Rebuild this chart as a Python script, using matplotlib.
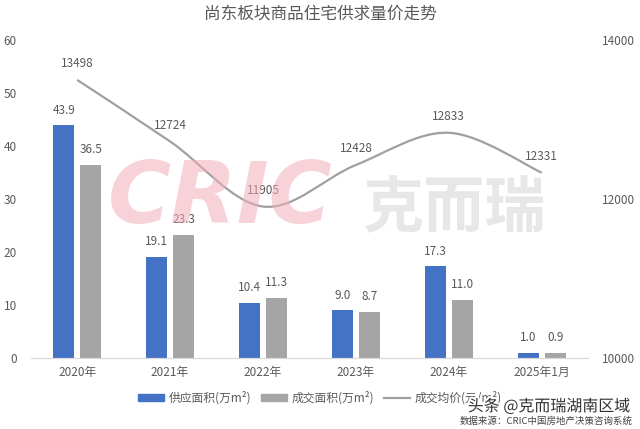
import numpy as np
import matplotlib.pyplot as plt
from matplotlib.path import Path
from matplotlib.patches import PathPatch, Patch
from matplotlib.lines import Line2D
import matplotlib.patheffects as pe

plt.rcParams['font.family'] = ['Noto Sans CJK SC', 'DejaVu Sans']

years = ['2020年', '2021年', '2022年', '2023年', '2024年', '2025年1月']
supply = [43.9, 19.1, 10.4, 9.0, 17.3, 1.0]
deal = [36.5, 23.3, 11.3, 8.7, 11.0, 0.9]
price = [13498, 12724, 11905, 12428, 12833, 12331]

BLUE = '#4472C4'
GREY = '#A5A5A5'
TXT = '#595959'

fig = plt.figure(figsize=(6.4, 4.29), dpi=100)
ax = fig.add_axes([0.048, 0.1655, 0.871, 0.7413])
ax2 = ax.twinx()

x = np.arange(len(years))
w = 0.225
ax.bar(x - 0.145, supply, w, color=BLUE, zorder=2)
ax.bar(x + 0.145, deal, w, color=GREY, zorder=2)
for i in range(len(x)):
    ax.annotate(f'{supply[i]:.1f}', (x[i] - 0.145, supply[i]), xytext=(0, 11),
                textcoords='offset points', ha='center', va='center', fontsize=8.5, color=TXT)
    ax.annotate(f'{deal[i]:.1f}', (x[i] + 0.145, deal[i]), xytext=(0, 11),
                textcoords='offset points', ha='center', va='center', fontsize=8.5, color=TXT)

# smoothed price line (catmull-rom style bezier, like excel)
pts = np.column_stack([x, price]).astype(float)
verts = [tuple(pts[0])]
codes = [Path.MOVETO]
n = len(pts)
for i in range(n - 1):
    p_prev = pts[i - 1] if i > 0 else pts[i]
    p_next2 = pts[i + 2] if i + 2 < n else pts[i + 1]
    c1 = pts[i] + (pts[i + 1] - p_prev) / 6
    c2 = pts[i + 1] - (p_next2 - pts[i]) / 6
    verts += [tuple(c1), tuple(c2), tuple(pts[i + 1])]
    codes += [Path.CURVE4] * 3
ax2.add_patch(PathPatch(Path(verts, codes), fill=False, edgecolor='#A0A0A0', lw=1.6, zorder=3))
for i in range(n):
    ax2.annotate(str(price[i]), (x[i], price[i]), xytext=(0, 11.5),
                 textcoords='offset points', ha='center', va='center', fontsize=8.5, color=TXT)

ax.set_xlim(-0.5, len(years) - 0.5)
ax.set_ylim(0, 60)
ax.set_yticks(range(0, 61, 10))
ax2.set_ylim(10000, 14000)
ax2.set_yticks([10000, 12000, 14000])
ax.set_xticks(x)
ax.set_xticklabels(years)

for a in (ax, ax2):
    for s in ('top', 'left', 'right'):
        a.spines[s].set_visible(False)
    a.spines['bottom'].set_color('#D9D9D9')
    a.tick_params(length=0, labelsize=8.5, labelcolor=TXT)
ax.tick_params(axis='y', pad=10)
ax.tick_params(axis='x', pad=6)
ax2.tick_params(axis='y', pad=10)

fig.text(0.5, 0.968, '尚东板块商品住宅供求量价走势', ha='center', va='center', fontsize=12, color=TXT)

# watermark
fig.text(0.345, 0.535, 'CRIC', ha='center', va='center', fontsize=62, fontweight='bold',
         style='italic', color='#F2AEB8', alpha=0.55, zorder=5, family='DejaVu Sans')
fig.text(0.71, 0.512, '克而瑞', ha='center', va='center', fontsize=44, fontweight='bold',
         color='#D8D8D8', alpha=0.6, zorder=5)

handles = [Patch(color=BLUE), Patch(color=GREY), Line2D([], [], color='#A0A0A0', lw=1.6)]
labels = ['供应面积(万m²)', '成交面积(万m²)', '成交均价(元/m²)']
fig.legend(handles, labels, loc='center', bbox_to_anchor=(0.5, 0.072), ncol=3, frameon=False,
           fontsize=8.5, labelcolor=TXT, handlelength=2.2, handleheight=0.6,
           columnspacing=0.8, handletextpad=0.4)

fig.text(0.985, 0.052, '头条 @克而瑞湖南区域', ha='right', va='center', fontsize=11.5, color='#333333',
         path_effects=[pe.withStroke(linewidth=2.5, foreground='white')], zorder=10)
fig.text(0.988, 0.018, '数据来源：CRIC中国房地产决策咨询系统', ha='right', va='center', fontsize=6.8,
         color='#444444', zorder=10)

fig.savefig('out.png', dpi=100)
